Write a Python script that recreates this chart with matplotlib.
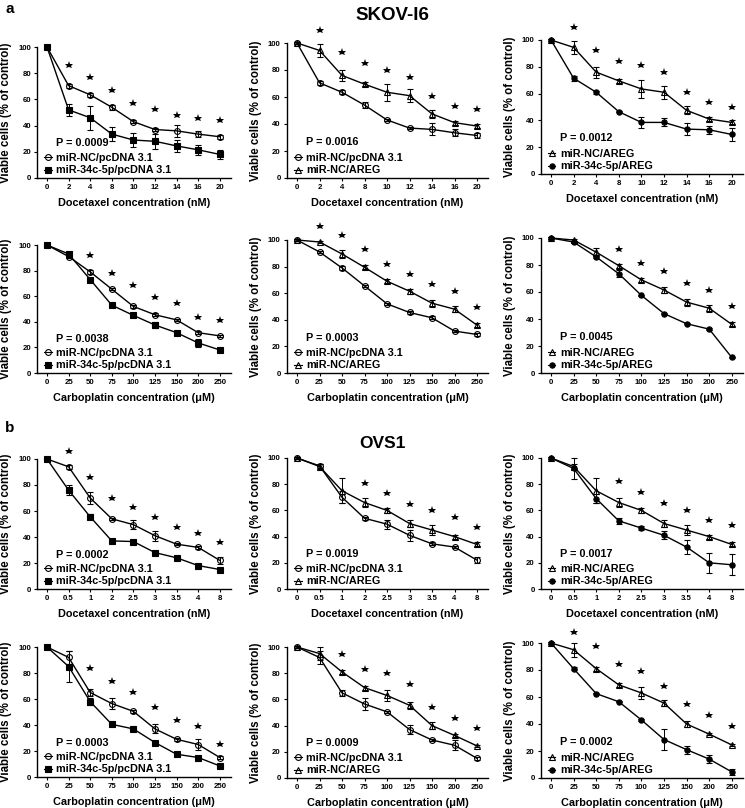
import matplotlib
matplotlib.use('Agg')
import matplotlib.pyplot as plt
from matplotlib.lines import Line2D

plt.rcParams['font.family'] = ['Liberation Sans', 'DejaVu Sans']
plt.rcParams['font.weight'] = 'bold'
plt.rcParams['axes.labelweight'] = 'bold'

# ---------------- data ----------------
doc_ticks_a = ['0', '2', '4', '8', '10', '12', '14', '16', '20']
doc_ticks_b = ['0', '0.5', '1', '2', '2.5', '3', '3.5', '4', '8']
carb_ticks = ['0', '25', '50', '75', '100', '125', '150', '200', '250']

lab_nc_pc = 'miR-NC/pcDNA 3.1'
lab_34_pc = 'miR-34c-5p/pcDNA 3.1'
lab_nc_ar = 'miR-NC/AREG'
lab_34_ar = 'miR-34c-5p/AREG'

# SKOV-I6, docetaxel
skov_doc_nc_pc = [100, 70.5, 63.5, 54, 43, 37, 36, 33.5, 31.5]
skov_doc_nc_pc_err = [1, 1.5, 1.5, 2, 1, 1, 4.5, 2.5, 1.5]
skov_doc_34_pc = [100, 52, 46, 33.5, 29, 28, 24.5, 21.5, 18]
skov_doc_34_pc_err = [1, 4.5, 9, 5.5, 5.5, 5.5, 4.5, 4, 3.5]
skov_doc_nc_ar = [100, 94.5, 76, 69.5, 63.5, 61, 47.5, 41, 38.5]
skov_doc_nc_ar_err = [0.5, 5, 4, 1.5, 6.5, 5, 3, 1.5, 1.5]
skov_doc_34_ar = [100, 71.5, 61, 46.5, 38.5, 38.5, 33.5, 33, 29.5]
skov_doc_34_ar_err = [0.5, 2, 1, 0.5, 4, 3, 4.5, 3, 4.5]

# SKOV-I6, carboplatin
skov_carb_nc_pc = [100, 91, 79, 65.5, 52, 45.5, 41.5, 31.5, 29]
skov_carb_nc_pc_err = [0.5, 1, 1.5, 1, 1, 1, 1, 1, 1]
skov_carb_34_pc = [100, 93, 73, 53, 45, 37.5, 31.5, 23.5, 18]
skov_carb_34_pc_err = [0.5, 1, 1.5, 1, 0.5, 2, 1.5, 3, 1]
skov_carb_nc_ar = [100, 98.5, 89.5, 79.5, 69, 61.5, 52.5, 48, 36]
skov_carb_nc_ar_err = [0.5, 0.5, 3, 1.5, 1.5, 2, 2.5, 2.5, 1.5]
skov_carb_34_ar = [100, 97, 86, 73.5, 57.5, 44, 36.5, 32.5, 11.5]
skov_carb_34_ar_err = [0.5, 0.5, 1, 2.5, 0.5, 0.5, 0.5, 0.5, 0.5]

# OVS1, docetaxel
ovs_doc_nc_pc = [100, 94, 70, 54, 49.5, 41, 34.5, 32, 22]
ovs_doc_nc_pc_err = [0.5, 1.5, 4.5, 1, 3.5, 4, 1, 1, 2.5]
ovs_doc_34_pc = [100, 76, 55.5, 37, 36.5, 28, 24, 18, 15]
ovs_doc_34_pc_err = [0.5, 4, 2, 0.5, 0.5, 1, 0.5, 0.5, 0.5]
ovs_doc_nc_ar = [100, 93.5, 75, 66, 60, 50, 45, 40, 34]
ovs_doc_nc_ar_err = [0.5, 2, 9.5, 3.5, 2, 3, 4, 1.5, 1.5]
ovs_doc_34_ar = [100, 92, 69, 52, 46.5, 41, 32, 20, 18.5]
ovs_doc_34_ar_err = [0.5, 8, 3.5, 2, 1.5, 3, 5.5, 7.5, 8]

# OVS1, carboplatin
ovs_carb_nc_pc = [100, 92, 65, 56.5, 50.5, 37, 29, 25, 15]
ovs_carb_nc_pc_err = [0.5, 5, 2.5, 4.5, 1, 3.5, 1, 4, 1]
ovs_carb_34_pc = [100, 85, 58, 40.5, 37, 26.5, 17.5, 15, 8.5]
ovs_carb_34_pc_err = [0.5, 12, 2.5, 1.5, 0.5, 0.5, 0.5, 0.5, 1]
ovs_carb_nc_ar = [100, 95, 81, 69, 63, 55.5, 40, 32.5, 24.5]
ovs_carb_nc_ar_err = [0.5, 5, 1.5, 1.5, 4.5, 2.5, 2.5, 1, 1]
ovs_carb_34_ar = [100, 81, 62.5, 56.5, 43, 28.5, 21, 14, 4.5]
ovs_carb_34_ar_err = [0.5, 1, 0.5, 0.5, 1, 7.5, 3, 3, 2]

# asterisk heights (None = no asterisk)
stars_a1 = [None, 86.5, 77, 67.5, 57.5, 52.5, 48, 46, 44]
stars_a2 = [None, 109.5, 93, 85.5, 80, 75, 60.5, 53.5, 51]
stars_a3 = [None, 110, 92.5, 84, 81, 76, 61, 54, 50]
stars_b1 = [None, None, 92.5, 78.5, 68.5, 59.5, 54.5, 44, 41.5]
stars_b2 = [None, 110.5, 104, 93, 82, 74.5, 67, 62, 50]
stars_b3 = [None, None, None, 92, 81.5, 75.5, 66.5, 61.5, 49.5]
stars_c1 = [None, 106.5, 86, 70, 63, 55.5, 47.5, 43, 36.5]
stars_c2 = [None, None, None, 81, 73, 65, 60, 55, 47.5]
stars_c3 = [None, None, None, 82.5, 74, 65.5, 60, 53, 48.5]
stars_d1 = [None, None, 84, 73.5, 65.5, 53.5, 44, 39.5, 25.5]
stars_d2 = [None, None, 95, 83, 80, 72, 54.5, 46, 38]
stars_d3 = [None, 108, 98, 84.5, 79, 68.5, 55, 46.5, 38.5]

p_values = ['0.0009', '0.0016', '0.0012', '0.0038', '0.0003', '0.0045',
            '0.0002', '0.0019', '0.0017', '0.0003', '0.0009', '0.0002']

# marker style for each group
styles = {
    lab_nc_pc: dict(marker='o', mfc='none', ms=4.2),
    lab_34_pc: dict(marker='s', mfc='black', ms=4.2),
    lab_nc_ar: dict(marker='^', mfc='none', ms=4.6),
    lab_34_ar: dict(marker='o', mfc='black', ms=3.8),
}

W, H = 745, 808
fig = plt.figure(figsize=(W / 100, H / 100), dpi=100)

col_x0 = [47, 297, 551]
col_step = [21.6, 22.5, 22.6]
row_tb = [
    [(47, 178), (43, 178), (40, 174)],
    [(245, 373), (240, 373), (238, 373)],
    [(459, 589), (458, 589), (458, 589)],
    [(647, 777), (647, 778), (643, 778)],
]
XMIN, XMAX = -0.45, 8.5


def make_ax(r, c):
    x0, st = col_x0[c], col_step[c]
    left = x0 + XMIN * st
    right = x0 + XMAX * st
    top, bot = row_tb[r][c]
    return fig.add_axes([left / W, 1 - bot / H, (right - left) / W, (bot - top) / H])


def draw(ax, ticks, series, stars, p, xlabel):
    x = list(range(len(ticks)))
    handles, labels = [], []
    for vals, errs, lab in series:
        st = styles[lab]
        ax.errorbar(x, vals, yerr=errs, color='black', lw=1.0, marker=st['marker'],
                    ms=st['ms'], mfc=st['mfc'], mec='black', mew=0.8,
                    capsize=2, elinewidth=0.7, capthick=0.7, clip_on=False, zorder=3)
        handles.append(Line2D([0], [0], color='black', lw=0.8, marker=st['marker'],
                              ms=st['ms'], mfc=st['mfc'], mec='black', mew=0.8))
        labels.append(lab)
    for i, s in enumerate(stars):
        if s is not None:
            ax.plot(i, s, marker='*', color='black', ms=6.2, mew=0, clip_on=False)
    ax.set_xlim(XMIN, XMAX)
    ax.set_ylim(0, 100)
    ax.set_yticks([0, 20, 40, 60, 80, 100])
    ax.set_xticks(x)
    ax.set_xticklabels(ticks)
    ax.tick_params(axis='both', labelsize=5.6, length=2, width=0.8, pad=2.5)
    for t in ax.get_xticklabels() + ax.get_yticklabels():
        t.set_fontweight('bold')
    for sp in ['top', 'right']:
        ax.spines[sp].set_visible(False)
    for sp in ['left', 'bottom']:
        ax.spines[sp].set_linewidth(1.0)
    ax.set_ylabel('Viable cells (% of control)', fontsize=8.3, fontweight='bold', labelpad=4.5)
    ax.set_xlabel(xlabel, fontsize=7.8, fontweight='bold', labelpad=5)
    ax.text(0.095, 0.265, 'P = ' + p, transform=ax.transAxes, fontsize=7.8,
            fontweight='bold', va='center', ha='left')
    ax.legend(handles, labels, loc='lower left', bbox_to_anchor=(0.035, 0.02),
              frameon=False, prop={'size': 7.8, 'weight': 'bold'}, handlelength=0.7,
              handletextpad=0.4, labelspacing=0.25, borderaxespad=0, borderpad=0)


doc_a = 'Docetaxel concentration (nM)'
carb = 'Carboplatin concentration (\u03bcM)'

panels = [
    (0, 0, doc_ticks_a, [(skov_doc_nc_pc, skov_doc_nc_pc_err, lab_nc_pc), (skov_doc_34_pc, skov_doc_34_pc_err, lab_34_pc)], stars_a1, doc_a),
    (0, 1, doc_ticks_a, [(skov_doc_nc_pc, skov_doc_nc_pc_err, lab_nc_pc), (skov_doc_nc_ar, skov_doc_nc_ar_err, lab_nc_ar)], stars_a2, doc_a),
    (0, 2, doc_ticks_a, [(skov_doc_nc_ar, skov_doc_nc_ar_err, lab_nc_ar), (skov_doc_34_ar, skov_doc_34_ar_err, lab_34_ar)], stars_a3, doc_a),
    (1, 0, carb_ticks, [(skov_carb_nc_pc, skov_carb_nc_pc_err, lab_nc_pc), (skov_carb_34_pc, skov_carb_34_pc_err, lab_34_pc)], stars_b1, carb),
    (1, 1, carb_ticks, [(skov_carb_nc_pc, skov_carb_nc_pc_err, lab_nc_pc), (skov_carb_nc_ar, skov_carb_nc_ar_err, lab_nc_ar)], stars_b2, carb),
    (1, 2, carb_ticks, [(skov_carb_nc_ar, skov_carb_nc_ar_err, lab_nc_ar), (skov_carb_34_ar, skov_carb_34_ar_err, lab_34_ar)], stars_b3, carb),
    (2, 0, doc_ticks_b, [(ovs_doc_nc_pc, ovs_doc_nc_pc_err, lab_nc_pc), (ovs_doc_34_pc, ovs_doc_34_pc_err, lab_34_pc)], stars_c1, doc_a),
    (2, 1, doc_ticks_b, [(ovs_doc_nc_pc, ovs_doc_nc_pc_err, lab_nc_pc), (ovs_doc_nc_ar, ovs_doc_nc_ar_err, lab_nc_ar)], stars_c2, doc_a),
    (2, 2, doc_ticks_b, [(ovs_doc_nc_ar, ovs_doc_nc_ar_err, lab_nc_ar), (ovs_doc_34_ar, ovs_doc_34_ar_err, lab_34_ar)], stars_c3, doc_a),
    (3, 0, carb_ticks, [(ovs_carb_nc_pc, ovs_carb_nc_pc_err, lab_nc_pc), (ovs_carb_34_pc, ovs_carb_34_pc_err, lab_34_pc)], stars_d1, carb),
    (3, 1, carb_ticks, [(ovs_carb_nc_pc, ovs_carb_nc_pc_err, lab_nc_pc), (ovs_carb_nc_ar, ovs_carb_nc_ar_err, lab_nc_ar)], stars_d2, carb),
    (3, 2, carb_ticks, [(ovs_carb_nc_ar, ovs_carb_nc_ar_err, lab_nc_ar), (ovs_carb_34_ar, ovs_carb_34_ar_err, lab_34_ar)], stars_d3, carb),
]

for k, (r, c, ticks, series, stars, xl) in enumerate(panels):
    ax = make_ax(r, c)
    draw(ax, ticks, series, stars, p_values[k], xl)

fig.text(5 / W, 1 - 9 / H, 'a', fontsize=11, fontweight='bold', ha='left', va='center')
fig.text(5 / W, 1 - 428 / H, 'b', fontsize=11, fontweight='bold', ha='left', va='center')
fig.text(392 / W, 1 - 15 / H, 'SKOV-I6', fontsize=13.5, fontweight='bold', ha='center', va='center')
fig.text(382 / W, 1 - 443 / H, 'OVS1', fontsize=12.5, fontweight='bold', ha='center', va='center')

fig.savefig('out.png', dpi=100)
